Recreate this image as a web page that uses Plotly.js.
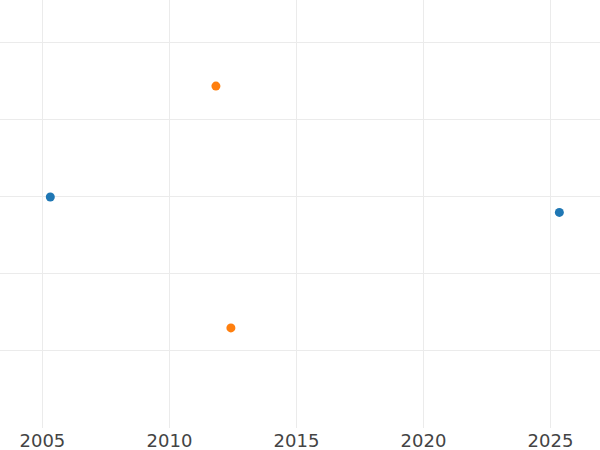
<!DOCTYPE html>
<html>
<head>
<meta charset="utf-8">
<script src="https://cdn.plot.ly/plotly-3.0.1.min.js"></script>
<style>html,body{margin:0;padding:0;background:#fff;}#chart{width:600px;height:450px;}</style>
</head>
<body>
<div id="chart"></div>
<script>
const seriesAX = [2005.31, 2025.35];
const seriesAY = [3.0, 2.8];
const seriesBX = [2011.83, 2012.42];
const seriesBY = [4.44, 1.30];
const xTicks = [2005, 2010, 2015, 2020, 2025];
const yTicks = [1, 2, 3, 4, 5];

const traces = [
  {x: seriesAX, y: seriesAY, type: 'scatter', mode: 'markers',
   marker: {color: '#1f77b4', size: 9}, showlegend: false},
  {x: seriesBX, y: seriesBY, type: 'scatter', mode: 'markers',
   marker: {color: '#ff7f0e', size: 9}, showlegend: false}
];

const layout = {
  width: 600, height: 450,
  margin: {l: 0, r: 0, t: 0, b: 22, pad: 0},
  paper_bgcolor: '#ffffff', plot_bgcolor: '#ffffff',
  font: {family: 'DejaVu Sans', color: '#444444', size: 18},
  xaxis: {
    range: [2003.33, 2026.95],
    tickvals: xTicks, ticktext: xTicks.map(String),
    showgrid: true, gridcolor: '#ebebeb', gridwidth: 1,
    zeroline: false, showline: false, ticks: '',
    tickfont: {family: 'DejaVu Sans', size: 18, color: '#444444'}
  },
  yaxis: {
    range: [0, 5.558],
    tickvals: yTicks,
    showticklabels: false,
    showgrid: true, gridcolor: '#ebebeb', gridwidth: 1,
    zeroline: false, showline: false, ticks: ''
  }
};

Plotly.newPlot('chart', traces, layout, {displayModeBar: false, staticPlot: true});
</script>
</body>
</html>
